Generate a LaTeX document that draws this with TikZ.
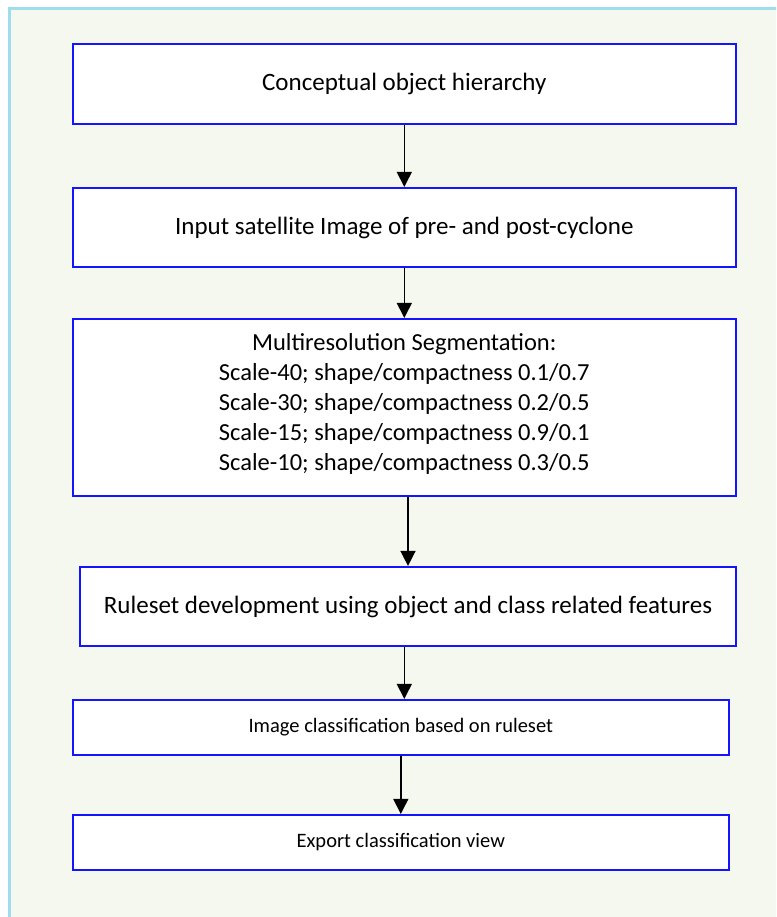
\documentclass[tikz,border=0pt]{standalone}
\usepackage{fontspec}
\setmainfont{Carlito}
\usetikzlibrary{arrows.meta}
\definecolor{framecol}{HTML}{9EDCEE}
\definecolor{bgcol}{HTML}{F5F8EF}
\definecolor{boxblue}{HTML}{1414FF}
\begin{document}
\begin{tikzpicture}[x=1pt,y=-1pt,
  box/.style={draw=boxblue, line width=2.2pt, fill=white, rectangle, inner sep=0pt, font=\fontsize{25}{30}\selectfont, align=center},
  smallbox/.style={box, font=\fontsize{20.5}{25}\selectfont},
  txt/.style={inner sep=0pt, font=\fontsize{24.5}{30}\selectfont, align=center},
  arr/.style={line width=1.5pt, -{Triangle[length=15pt,width=15pt]}}]
\useasboundingbox (0,0) rectangle (776,917);
\begin{scope}
\clip (0,0) rectangle (776,917);
\draw[framecol, line width=3pt, fill=bgcol] (9.5,8.5) rectangle (800,940);
\end{scope}
\node[box, minimum width=663pt, minimum height=80pt] (b1) at (404.3,84) {Conceptual object hierarchy};
\node[box, minimum width=663pt, minimum height=79pt] (b2) at (404.3,227.5) {Input satellite Image of pre- and post-cyclone};
\node[box, minimum width=663pt, minimum height=177pt] (b3) at (404.3,407.5) {};
\node[txt] (b3t) at (404.3,404) {Multiresolution Segmentation:\\Scale-40; shape/compactness 0.1/0.7\\Scale-30; shape/compactness 0.2/0.5\\Scale-15; shape/compactness 0.9/0.1\\Scale-10; shape/compactness 0.3/0.5};
\node[box, minimum width=656pt, minimum height=79pt] (b4) at (408,606.5) {Ruleset development using object and class related features};
\node[smallbox, minimum width=656pt, minimum height=55pt] (b5) at (400.8,727.5) {Image classification based on ruleset};
\node[smallbox, minimum width=656pt, minimum height=55pt] (b6) at (400.8,842.5) {Export classification view};
\draw[arr] (b1.south) -- (b2.north);
\draw[arr] (b2.south) -- (b3.north);
\draw[arr] (b3.south -| b4) -- (b4.north);
\draw[arr] (b4.south -| b3) -- (b5.north -| b3);
\draw[arr] (b5.south) -- (b6.north);
\end{tikzpicture}
\end{document}
